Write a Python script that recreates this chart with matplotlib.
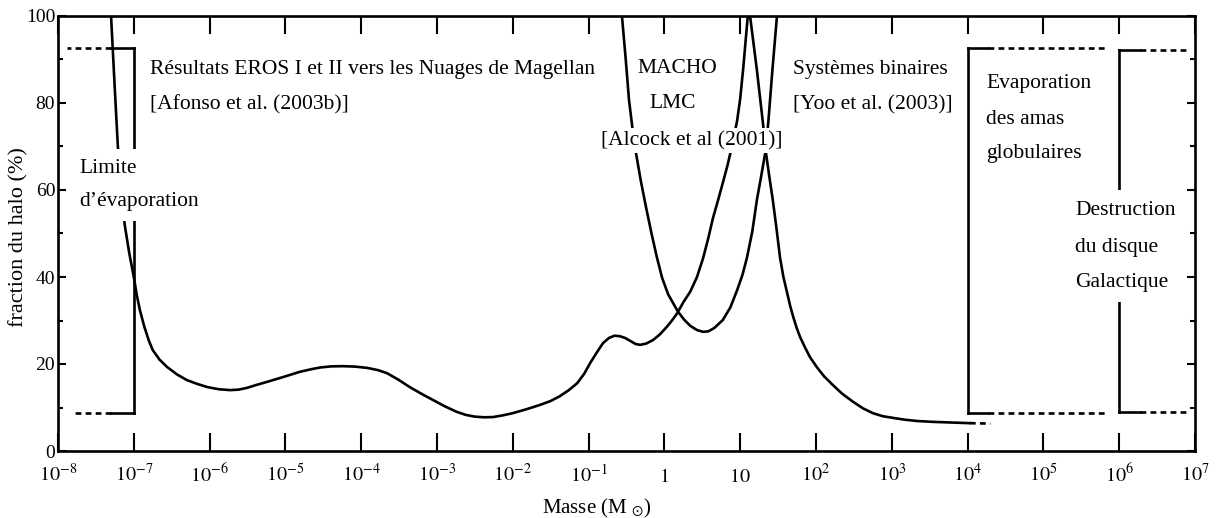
import matplotlib
matplotlib.use('Agg')
import matplotlib.pyplot as plt
import numpy as np

plt.rcParams['font.family'] = ['Liberation Serif', 'DejaVu Serif']
plt.rcParams['mathtext.fontset'] = 'stix'

# courbes : log10(masse / Msol) et fraction du halo (%)
eros_logm = [-7.30, -7.25, -7.21, -7.16, -7.12, -7.06, -7.00, -6.96, -6.92, -6.86,
             -6.80, -6.75, -6.66, -6.56, -6.43, -6.30, -6.16, -6.03, -5.88, -5.73,
             -5.62, -5.51, -5.38, -5.24, -5.03, -4.81, -4.66, -4.54, -4.40, -4.24,
             -4.08, -3.92, -3.78, -3.66, -3.51, -3.36, -3.20, -3.05, -2.90, -2.74,
             -2.62, -2.50, -2.38, -2.26, -2.13, -2.00, -1.82, -1.64, -1.50, -1.38,
             -1.26, -1.15, -1.06, -0.98, -0.89, -0.81, -0.73, -0.66, -0.59, -0.52,
             -0.45, -0.38, -0.32, -0.24, -0.15, -0.06, 0.03, 0.10, 0.17, 0.25,
             0.34, 0.43, 0.51, 0.58, 0.64, 0.71, 0.77, 0.83, 0.88, 0.92,
             0.96, 1.00, 1.04, 1.07, 1.10]
eros_frac = [100, 83.0, 69.9, 60.0, 52.0, 45.5, 40.0, 35.8, 32.4, 28.5,
             25.3, 23.2, 21.0, 19.3, 17.6, 16.3, 15.4, 14.7, 14.2, 14.0,
             14.1, 14.5, 15.2, 15.9, 17.0, 18.2, 18.8, 19.2, 19.45, 19.5,
             19.4, 19.1, 18.6, 17.9, 16.4, 14.7, 13.1, 11.7, 10.3, 9.0,
             8.3, 7.9, 7.75, 7.8, 8.2, 8.7, 9.6, 10.6, 11.5, 12.6,
             14.0, 15.6, 17.7, 20.2, 22.7, 24.8, 26.0, 26.5, 26.4, 26.0,
             25.3, 24.6, 24.4, 24.7, 25.5, 26.8, 28.5, 30.0, 31.7, 34.2,
             36.6, 40.0, 44.3, 49.0, 53.5, 57.8, 61.6, 65.5, 69.2, 72.5,
             76.0, 81.0, 88.0, 94.0, 100]

macho_logm = [-0.56, -0.51, -0.467, -0.42, -0.375, -0.31, -0.243, -0.17, -0.10, -0.03,
              0.05, 0.18, 0.26, 0.34, 0.43, 0.51, 0.58, 0.66, 0.77, 0.87,
              0.96, 1.03, 1.09, 1.16, 1.22, 1.28, 1.33, 1.37, 1.425, 1.485]
macho_frac = [100, 90.0, 80.7, 74.0, 68.5, 62.0, 56.1, 50.0, 44.6, 39.8,
              36.0, 32.0, 30.2, 28.8, 27.8, 27.4, 27.5, 28.3, 30.1, 33.0,
              37.0, 40.5, 44.5, 50.5, 57.7, 63.5, 68.5, 75.4, 87.6, 100]

yoo_logm = [1.13, 1.22, 1.30, 1.34, 1.385, 1.43, 1.48, 1.525, 1.57, 1.62,
            1.66, 1.70, 1.745, 1.79, 1.855, 1.92, 2.01, 2.11, 2.22, 2.35,
            2.49, 2.62, 2.75, 2.88, 3.02, 3.17, 3.33, 3.54, 3.78, 4.03]
yoo_frac = [100, 87.6, 75.4, 68.5, 63.0, 57.7, 51.0, 44.5, 40.0, 36.3,
            33.3, 30.8, 28.3, 26.2, 23.8, 21.6, 19.3, 17.1, 15.2, 13.1,
            11.3, 9.8, 8.7, 8.0, 7.6, 7.2, 6.9, 6.7, 6.55, 6.4]
yoo_tail_logm = [4.03, 4.30]
yoo_tail_frac = [6.4, 6.3]

# limites en marche : log10 m du bord vertical, fin trait plein, fins des pointillés, haut, bas
limite_evap = [-7.0, -7.30, -7.88, -7.78, 92.7, 8.7]
amas_glob = [4.0, 4.27, 5.81, 5.81, 92.6, 8.7]
disque_gal = [6.0, 6.28, 6.90, 6.90, 92.2, 8.9]

xtick_exp = list(range(-8, 8))
xtick_labels = ['$10^{%d}$' % e if e not in (0, 1) else '$%d$' % 10 ** e for e in xtick_exp]
ytick_major = [0, 20, 40, 60, 80, 100]
ytick_minor = [10, 30, 50, 70, 90]

fig = plt.figure(figsize=(12.18, 5.18), dpi=100)
ax = fig.add_axes([58 / 1218, 1 - 451 / 518, 1137 / 1218, 435 / 518])

lw = 1.9
dash = (0, (2.2, 1.6))


def m(u):
    return 10.0 ** np.asarray(u)


for lx, ly in [(eros_logm, eros_frac), (macho_logm, macho_frac), (yoo_logm, yoo_frac)]:
    ax.plot(m(lx), ly, color='black', lw=lw, solid_joinstyle='round', zorder=2)
ax.plot(m(yoo_tail_logm), yoo_tail_frac, color='black', lw=lw, ls=dash, zorder=2)

for edge, solid_end, dash_top, dash_bot, top, bot in [limite_evap, amas_glob, disque_gal]:
    ax.plot(m([edge, edge]), [top, bot], color='black', lw=lw, zorder=2)
    ax.plot(m([edge, solid_end]), [top, top], color='black', lw=lw, zorder=2)
    ax.plot(m([edge, solid_end]), [bot, bot], color='black', lw=lw, zorder=2)
    ax.plot(m([solid_end, dash_top]), [top, top], color='black', lw=lw, ls=dash, zorder=2)
    ax.plot(m([solid_end, dash_bot]), [bot, bot], color='black', lw=lw, ls=dash, zorder=2)

ax.set_xscale('log')
ax.set_xlim(1e-8, 1e7)
ax.set_ylim(0, 100)
ax.xaxis.set_minor_locator(matplotlib.ticker.NullLocator())
ax.set_xticks(m(xtick_exp), xtick_labels)
ax.set_yticks(ytick_major)
ax.set_yticks(ytick_minor, minor=True)

for s in ax.spines.values():
    s.set_linewidth(1.9)
ax.tick_params(axis='x', which='major', direction='in', top=True, length=13, width=1.5,
               labelsize=14.5, pad=22)
ax.tick_params(axis='y', which='major', direction='in', right=True, length=6, width=1.5,
               labelsize=14, pad=2)
ax.tick_params(axis='y', which='minor', direction='in', right=True, length=3.5, width=1.5)
for t in ax.get_xticklabels():
    t.set_verticalalignment('baseline')

ax.set_ylabel('fraction du halo (%)', fontsize=16)
ax.yaxis.set_label_coords(-0.026, 0.492)
ax.set_xlabel(r'Masse (M $_{\odot}$)', fontsize=15)
ax.xaxis.set_label_coords(0.474, -0.106)

fs = 15.5
white = dict(boxstyle='square,pad=0.12', facecolor='white', edgecolor='none')
white_big = dict(boxstyle='square,pad=0.48', facecolor='white', edgecolor='none')


def label(u, v, s, ha='left', bbox=None):
    ax.text(10.0 ** u, v, s, ha=ha, va='baseline', fontsize=fs, bbox=bbox, zorder=5)


label(-6.79, 86.7, 'Résultats EROS I et II vers les Nuages de Magellan')
label(-6.79, 78.4, '[Afonso et al. (2003b)]')
label(-7.72, 63.9, 'Limite', bbox=white_big)
label(-7.72, 56.3, 'd’évaporation', bbox=white_big)
label(0.166, 86.9, 'MACHO', ha='center')
label(0.113, 78.9, 'LMC', ha='center')
label(0.364, 70.3, '[Alcock et al (2001)]', ha='center', bbox=white)
label(1.697, 86.7, 'Systèmes binaires')
label(1.697, 78.4, '[Yoo et al. (2003)]')
label(4.243, 83.4, 'Evaporation')
label(4.243, 75.2, 'des amas')
label(4.243, 67.3, 'globulaires')
label(5.417, 54.3, 'Destruction', bbox=white_big)
label(5.417, 45.7, 'du disque', bbox=white_big)
label(5.417, 37.7, 'Galactique', bbox=white_big)

fig.savefig('out.png', dpi=100)
